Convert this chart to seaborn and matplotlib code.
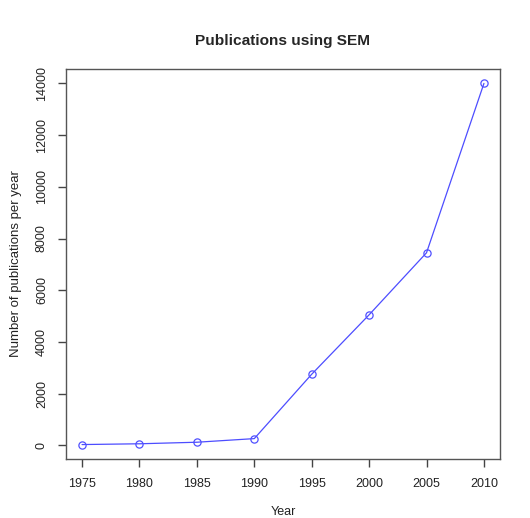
import matplotlib
matplotlib.use("Agg")
import matplotlib.pyplot as plt
import seaborn as sns
import pandas as pd

years = [1975, 1980, 1985, 1990, 1995, 2000, 2005, 2010]
publications = [30, 60, 120, 260, 2750, 5050, 7450, 14000]
x_ticks = [1975, 1980, 1985, 1990, 1995, 2000, 2005, 2010]
y_ticks = [0, 2000, 4000, 6000, 8000, 10000, 12000, 14000]

df = pd.DataFrame({"Year": years, "Publications": publications})

sns.set_style("ticks")
plt.rcParams["font.family"] = ["Liberation Sans", "DejaVu Sans"]
plt.rcParams["xtick.bottom"] = True
plt.rcParams["ytick.left"] = True

fig = plt.figure(figsize=(5.30, 5.18), dpi=100)
ax = fig.add_axes([0.1245, 0.1139, 0.8189, 0.7529])

sns.lineplot(data=df, x="Year", y="Publications", ax=ax,
             color="#4d4dff", linewidth=0.9, marker="o", markersize=5.2,
             markerfacecolor="none", markeredgecolor="#5050ff",
             markeredgewidth=0.9)

# R-style padded ranges
xr = max(years) - min(years)
yr = max(publications) - min(publications)
ax.set_xlim(min(years) - 0.04 * xr, max(years) + 0.04 * xr)
ax.set_ylim(min(publications) - 0.04 * yr, max(publications) + 0.04 * yr)

ax.set_xticks(x_ticks)
ax.set_yticks(y_ticks)
ax.set_xticklabels([str(v) for v in x_ticks])
ax.set_yticklabels([str(v) for v in y_ticks], rotation=90, va="center")
ax.tick_params(axis="both", which="major", direction="out", length=6,
               width=1.0, color="#444444", labelsize=9,
               labelcolor="#222222", bottom=True, left=True)
ax.tick_params(axis="x", pad=8)
ax.tick_params(axis="y", pad=7)

for s in ax.spines.values():
    s.set_visible(True)
    s.set_color("#555555")
    s.set_linewidth(1.0)

ax.set_xlabel("Year", fontsize=9, color="#222222", labelpad=11)
ax.set_ylabel("Number of publications per year", fontsize=9.5,
              color="#222222", labelpad=10)
ax.set_title("Publications using SEM", fontsize=11.1, fontweight="bold",
             pad=17)

fig.savefig("out.png", dpi=100, facecolor="white")
